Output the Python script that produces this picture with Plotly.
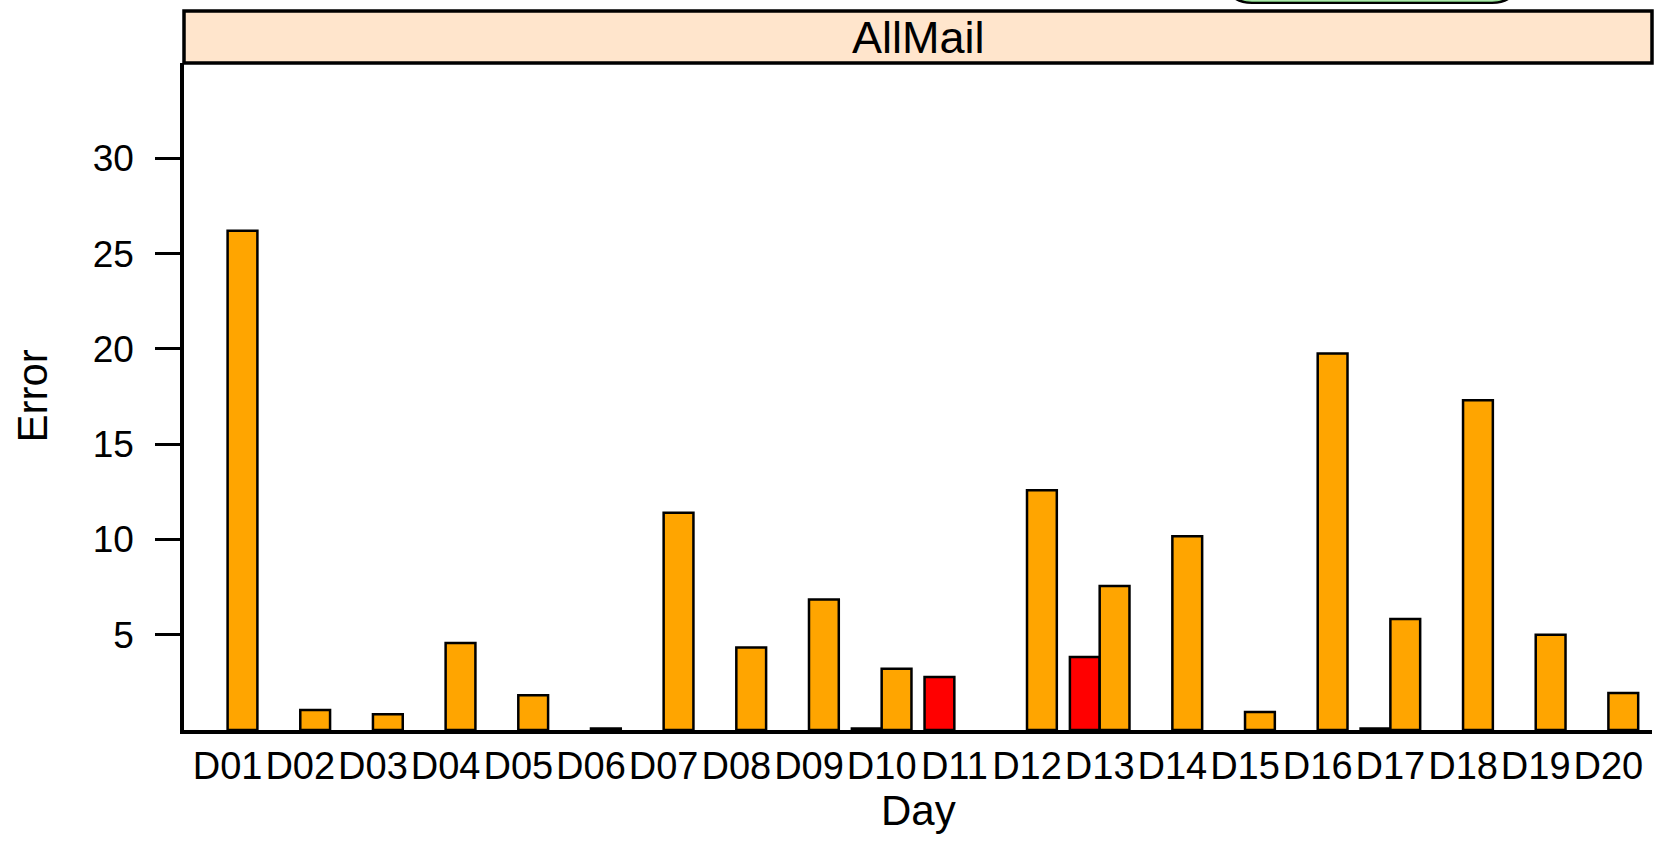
import plotly.graph_objects as go

days = [f"D{i:02d}" for i in range(1, 21)]
# two groups: left (red) and right (orange)
red_vals = [None, None, None, None, None, None, None, None, None, 0.08,
            2.78, None, 3.83, None, None, None, 0.08, None, None, None]
orange_vals = [26.2, 1.05, 0.83, 4.56, 1.83, 0.08, 11.4, 4.33, 6.85, 3.22,
               None, 12.58, 7.56, 10.17, 0.94, 19.75, 5.83, 17.3, 5.0, 1.94]
y_ticks = [5, 10, 15, 20, 25, 30]
panel_title = "AllMail"
x_title = "Day"
y_title = "Error"

W, H = 1662, 858
L, R, T, B = 184, 10, 62.5, 128
pw, ph = W - L - R, H - T - B

fig = go.Figure()
fig.add_trace(go.Bar(x=list(range(1, 21)), y=red_vals, name="red",
                     marker=dict(color="#FF0000", line=dict(color="black", width=2.5))))
fig.add_trace(go.Bar(x=list(range(1, 21)), y=orange_vals, name="orange",
                     marker=dict(color="#FFA500", line=dict(color="black", width=2.5))))

font = "Liberation Sans, Arial, sans-serif"

def py2paper(py):
    return (H - B - py) / ph

def px2paper(px):
    return (px - L) / pw

strip_top = py2paper(10.5)
shapes = [
    dict(type="rect", xref="paper", yref="paper", x0=0, x1=1, y0=1, y1=strip_top,
         fillcolor="#FFE5CC", line=dict(color="black", width=3.5), layer="below"),
]
# partially visible legend box at the very top
x0, x1 = px2paper(1227), px2paper(1517)
yb, yt = py2paper(2), py2paper(-40)
rx = 25 / pw
ry = 25 / ph
path = (f"M {x0} {yt} L {x0} {yb+ry} Q {x0} {yb} {x0+rx} {yb} "
        f"L {x1-rx} {yb} Q {x1} {yb} {x1} {yb+ry} L {x1} {yt}")
shapes.append(dict(type="path", xref="paper", yref="paper", path=path,
                   line=dict(color="black", width=3)))
yb2 = py2paper(0.5)
path2 = (f"M {x0+3/pw} {yt} L {x0+3/pw} {yb2+ry} Q {x0+3/pw} {yb2} {x0+rx} {yb2} "
         f"L {x1-rx} {yb2} Q {x1-3/pw} {yb2} {x1-3/pw} {yb2+ry} L {x1-3/pw} {yt}")
shapes.append(dict(type="path", xref="paper", yref="paper", path=path2,
                   line=dict(color="#8FE08F", width=1.5)))

fig.update_layout(
    width=W, height=H,
    margin=dict(l=L, r=R, t=T, b=B, autoexpand=False),
    paper_bgcolor="white", plot_bgcolor="white",
    barmode="group", bargap=0.18, bargroupgap=0,
    showlegend=False,
    font=dict(family=font, color="black"),
    xaxis=dict(range=[0.4, 20.6], tickmode="array", tickvals=list(range(1, 21)),
               ticktext=days, ticks="", showgrid=False, zeroline=False,
               showline=True, linecolor="black", linewidth=3.5, automargin=False,
               tickangle=0, tickfont=dict(size=38), ticklabelstandoff=0),
    yaxis=dict(range=[0, 35], tickmode="array", tickvals=y_ticks,
               ticks="outside", ticklen=25, tickwidth=3, tickcolor="black",
               showgrid=False, zeroline=False, automargin=False,
               showline=True, linecolor="black", linewidth=3.5,
               tickfont=dict(size=37), ticklabelstandoff=14),
    yaxis2=dict(range=[0, 35], overlaying="y", side="right", tickmode="array",
                tickvals=y_ticks, ticks="outside", ticklen=9, tickwidth=3,
                tickcolor="black", showticklabels=False, showgrid=False,
                zeroline=False, showline=True, linecolor="black", linewidth=3.5,
                automargin=False),
    shapes=shapes,
    annotations=[
        dict(text=panel_title, xref="paper", yref="paper", x=0.5,
             y=(1 + strip_top) / 2, showarrow=False,
             font=dict(size=45, family=font, color="black"),
             xanchor="center", yanchor="middle"),
        dict(text=x_title, xref="paper", yref="paper", x=0.5,
             y=py2paper(811), showarrow=False,
             font=dict(size=42, family=font, color="black"),
             xanchor="center", yanchor="middle"),
        dict(text=y_title, xref="paper", yref="paper", x=px2paper(32),
             y=0.5, showarrow=False, textangle=-90,
             font=dict(size=42, family=font, color="black"),
             xanchor="center", yanchor="middle"),
    ],
)

fig.write_html("out.html", config={"displayModeBar": False},
               post_script="document.body.style.margin='0';document.body.style.padding='0';")
